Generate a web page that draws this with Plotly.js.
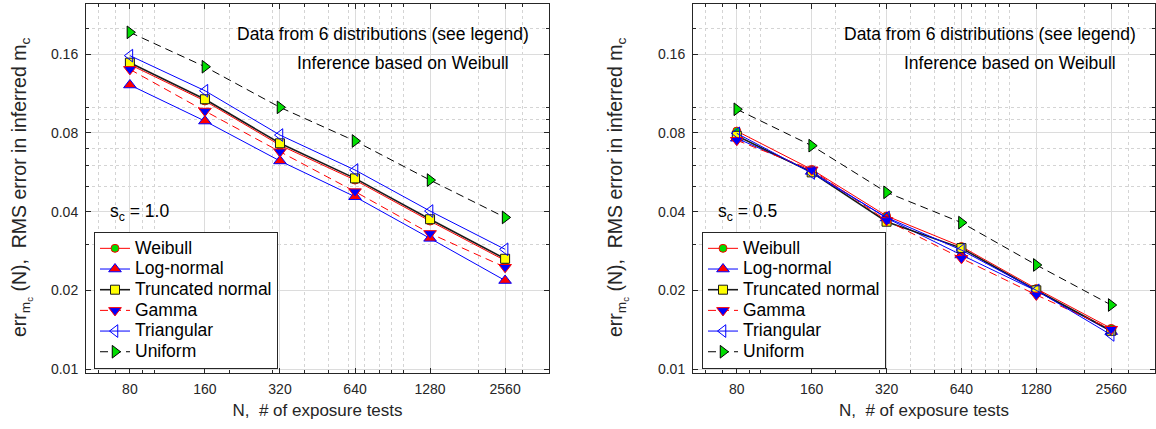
<!DOCTYPE html>
<html><head><meta charset="utf-8">
<script src="https://cdn.plot.ly/plotly-3.0.1.min.js"></script>
<style>html,body{margin:0;padding:0;background:#fff}#chart{width:1156px;height:429px}</style>
</head><body><div id="chart"></div>
<script>
// ---------- data ----------
const N = [80, 160, 320, 640, 1280, 2560];
const xTickText = ['80', '160', '320', '640', '1280', '2560'];
const yTicks = [0.01, 0.02, 0.04, 0.08, 0.16];
const yTickText = ['0.01', '0.02', '0.04', '0.08', '0.16'];
const xMinor = [60, 70, 90, 100, 200, 300, 400, 500, 600, 700, 800, 900, 1000, 2000, 3000];
const yMinor = [0.03, 0.05, 0.06, 0.07, 0.09, 0.1, 0.2];
const seriesNames = ['Weibull', 'Log-normal', 'Truncated normal', 'Gamma', 'Triangular', 'Uniform'];

// left panel, s_c = 1.0
const weibullA    = [0.146, 0.106, 0.0718, 0.0528, 0.0368, 0.0260];
const lognormalA  = [0.122, 0.0888, 0.0625, 0.0456, 0.0316, 0.0218];
const truncnormA  = [0.1485, 0.1076, 0.073, 0.0536, 0.0374, 0.0264];
const gammaA      = [0.140, 0.097, 0.0678, 0.0477, 0.0330, 0.0245];
const triangularA = [0.158, 0.116, 0.0785, 0.0577, 0.0402, 0.0287];
const uniformA    = [0.194, 0.1433, 0.1002, 0.0745, 0.0528, 0.0380];

// right panel, s_c = 0.5
const weibullB    = [0.0813, 0.058, 0.0385, 0.0294, 0.0203, 0.0143];
const lognormalB  = [0.0763, 0.057, 0.0378, 0.0273, 0.0199, 0.0139];
const truncnormB  = [0.078, 0.0565, 0.0366, 0.029, 0.0200, 0.0140];
const gammaB      = [0.075, 0.0578, 0.037, 0.0265, 0.0192, 0.0142];
const triangularB = [0.0797, 0.0562, 0.038, 0.0285, 0.0200, 0.0135];
const uniformB    = [0.0985, 0.0715, 0.0474, 0.0363, 0.0250, 0.01757];

// ---------- styles ----------
const FONT = 'Liberation Sans, Arial, Helvetica, sans-serif';
const INK = '#262626';
const styles = [
  {line: {color: '#ff0000', width: 1}, marker: {symbol: 'circle', size: 8, color: '#00dd00', line: {color: '#ff0000', width: 1}}},
  {line: {color: '#0000ff', width: 1}, marker: {symbol: 'triangle-up', size: 11, color: '#ff0000', line: {color: '#0000ff', width: 1}}},
  {line: {color: '#1a1a1a', width: 1.6}, marker: {symbol: 'square', size: 9, color: '#ffff00', line: {color: '#1a1a1a', width: 1}}},
  {line: {color: '#ff0000', width: 1, dash: '8px,5px'}, marker: {symbol: 'triangle-down', size: 11, color: '#0000ff', line: {color: '#ff0000', width: 1}}},
  {line: {color: '#0000ff', width: 1}, marker: {symbol: 'triangle-left-open', size: 11, color: '#0000ff', line: {color: '#0000ff', width: 1}}},
  {line: {color: '#000000', width: 1, dash: '8px,5px'}, marker: {symbol: 'triangle-right', size: 11, color: '#00dd00', line: {color: '#000000', width: 1}}}
];

const panelA = [weibullA, lognormalA, truncnormA, gammaA, triangularA, uniformA];
const panelB = [weibullB, lognormalB, truncnormB, gammaB, triangularB, uniformB];

const legendLabel = s => '<span style="font-size:17.5px">' + s + '</span>';

const traces = [];
panelA.forEach((ys, i) => traces.push(Object.assign({
  type: 'scatter', mode: 'lines+markers', x: N, y: ys, name: legendLabel(seriesNames[i]),
  xaxis: 'x', yaxis: 'y', legend: 'legend', legendgroup: 'a' + i
}, JSON.parse(JSON.stringify(styles[i])))));
panelB.forEach((ys, i) => traces.push(Object.assign({
  type: 'scatter', mode: 'lines+markers', x: N, y: ys, name: legendLabel(seriesNames[i]),
  xaxis: 'x2', yaxis: 'y2', legend: 'legend2', legendgroup: 'b' + i
}, JSON.parse(JSON.stringify(styles[i])))));

const W = 1156, H = 429;
const px = v => v / W, py = v => (H - v) / H;

const xRange = [Math.log10(N[0] / 1.5), Math.log10(N[N.length - 1] * 1.5)];
const yRange = [-2.0153, -0.6038];

function xAxis(domain) {
  return {
    type: 'log', domain: domain, range: xRange,
    tickmode: 'array', tickvals: N, ticktext: xTickText,
    ticks: 'inside', ticklen: 5, tickcolor: INK, tickwidth: 1,
    showline: true, linecolor: INK, linewidth: 1, mirror: 'ticks',
    showgrid: true, gridcolor: '#dcdcdc', gridwidth: 1,
    zeroline: false, ticklabelstandoff: 3,
    tickfont: {family: FONT, size: 14, color: INK},
    minor: {tickmode: 'array', tickvals: xMinor, ticks: 'inside', ticklen: 3, tickcolor: INK,
            showgrid: true, gridcolor: '#d4d4d4', griddash: 'dot', gridwidth: 1},
    title: {text: 'N,  # of exposure tests', font: {family: FONT, size: 17, color: INK}, standoff: 8}
  };
}
function yAxis(domain, anchor) {
  return {
    type: 'log', domain: domain, range: yRange, anchor: anchor,
    tickmode: 'array', tickvals: yTicks, ticktext: yTickText,
    ticks: 'inside', ticklen: 5, tickcolor: INK, tickwidth: 1,
    showline: true, linecolor: INK, linewidth: 1, mirror: 'ticks',
    showgrid: true, gridcolor: '#dcdcdc', gridwidth: 1,
    zeroline: false, ticklabelstandoff: 4,
    tickfont: {family: FONT, size: 14, color: INK},
    minor: {tickmode: 'array', tickvals: yMinor, ticks: 'inside', ticklen: 3, tickcolor: INK,
            showgrid: true, gridcolor: '#d4d4d4', griddash: 'dot', gridwidth: 1}
  };
}

const yDom = [py(373), py(4)];
const legendCommon = {
  bgcolor: '#ffffff', bordercolor: INK, borderwidth: 1,
  font: {family: FONT, size: 13.6, color: '#000'},
  xanchor: 'left', yanchor: 'top', tracegroupgap: 0, traceorder: 'grouped',
  itemwidth: 30
};

const ytitle = 'err<sub>m<sub>c</sub></sub> (N),  RMS error in inferred m<sub>c</sub>';
const annFont = {family: FONT, size: 17.5, color: '#000'};
const yTitleFont = {family: FONT, size: 19.5, color: INK};
const annotations = [
  {text: 'Data from 6 distributions (see legend)', x: px(235), y: py(34), xanchor: 'left', yanchor: 'middle'},
  {text: 'Inference based on Weibull', x: px(295), y: py(63), xanchor: 'left', yanchor: 'middle'},
  {text: 's<sub>c</sub> = 1.0', x: px(108), y: py(212), xanchor: 'left', yanchor: 'middle'},
  {text: 'Data from 6 distributions (see legend)', x: px(842), y: py(34), xanchor: 'left', yanchor: 'middle'},
  {text: 'Inference based on Weibull', x: px(902), y: py(63), xanchor: 'left', yanchor: 'middle'},
  {text: 's<sub>c</sub> = 0.5', x: px(716), y: py(212), xanchor: 'left', yanchor: 'middle'},
  {text: ytitle, x: px(21), y: py(188), xanchor: 'center', yanchor: 'middle', textangle: -90, font: yTitleFont},
  {text: ytitle, x: px(617), y: py(188), xanchor: 'center', yanchor: 'middle', textangle: -90, font: yTitleFont}
].map(a => Object.assign({xref: 'paper', yref: 'paper', showarrow: false, font: annFont}, a));

const layout = {
  width: W, height: H,
  margin: {l: 0, r: 0, t: 0, b: 0},
  paper_bgcolor: '#ffffff', plot_bgcolor: '#ffffff',
  font: {family: FONT, color: INK},
  showlegend: true,
  xaxis: Object.assign(xAxis([px(86), px(549)]), {anchor: 'y'}),
  yaxis: yAxis(yDom, 'x'),
  xaxis2: Object.assign(xAxis([px(693), px(1155)]), {anchor: 'y2'}),
  yaxis2: yAxis(yDom, 'x2'),
  legend: Object.assign({x: px(94), y: py(232)}, legendCommon),
  legend2: Object.assign({x: px(702), y: py(232)}, legendCommon),
  annotations: annotations
};

Plotly.newPlot('chart', traces, layout, {displayModeBar: false, staticPlot: true});
</script>
</body></html>
